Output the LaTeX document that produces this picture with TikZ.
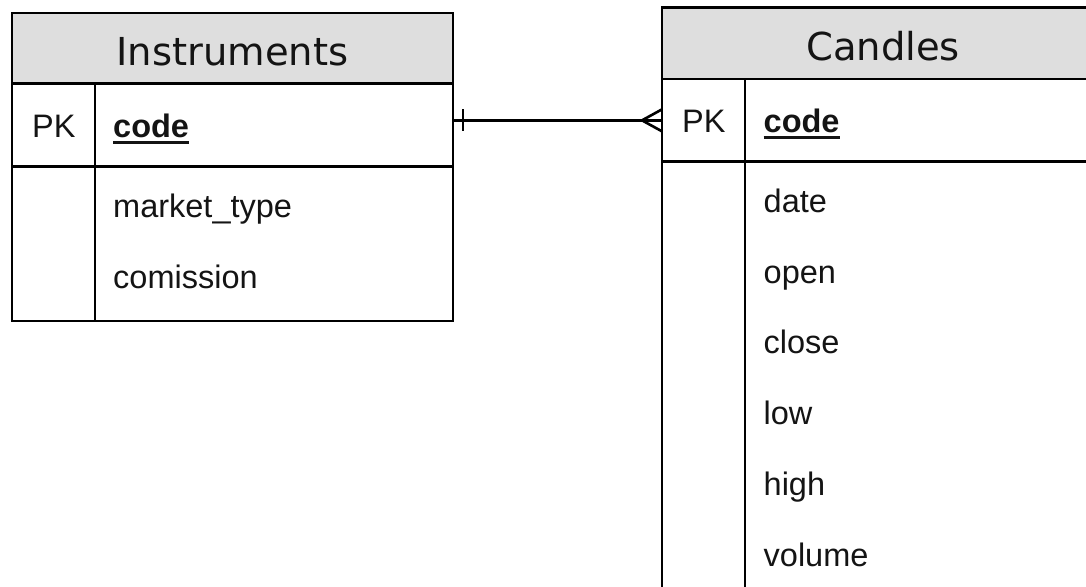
\documentclass[tikz,border=0pt]{standalone}
\usepackage{fontspec}
\setmainfont{Liberation Sans}
\newfontfamily\headfont{DejaVu Sans}
\usetikzlibrary{calc}
\definecolor{hdrgray}{RGB}{222,222,222}
\definecolor{ink}{RGB}{20,20,20}
\newcommand\ulbox[1]{\setbox0\hbox{#1}\rlap{\rule[-7pt]{\wd0}{2.6pt}}\box0}
\tikzset{
  tbl/.style={draw=black, line width=2.6pt, inner sep=0pt, outer sep=0pt, rectangle, anchor=north west},
  hdr/.style={tbl, fill=hdrgray},
  ttl/.style={font=\headfont\fontsize{38.5}{40}\selectfont, text=ink, anchor=base, inner sep=0pt},
  fld/.style={font=\fontsize{32.5}{34}\selectfont, text=ink, anchor=base west, inner sep=0pt},
  keyfld/.style={fld, font=\bfseries\fontsize{32.5}{34}\selectfont},
  rel/.style={draw=black, line width=2.6pt},
}
\begin{document}
\begin{tikzpicture}[x=1pt,y=-1pt]
\useasboundingbox (0,0) rectangle (1086,586);
\clip (0,0) rectangle (1086,586);
% Instruments table
\node[hdr, minimum width=441pt, minimum height=70.5pt] (ihead) at (12,13) {};
\node[tbl, minimum width=83pt, minimum height=83pt] (ipkk) at (12,83.5) {};
\node[tbl, minimum width=358pt, minimum height=83pt] (ipkf) at (95,83.5) {};
\node[tbl, minimum width=83pt, minimum height=154.5pt] (irestk) at (12,166.5) {};
\node[tbl, minimum width=358pt, minimum height=154.5pt] (irestf) at (95,166.5) {};
\node[ttl] (ititle) at (232.5,65.7) {Instruments};
\node[fld] (ipk) at (32,137) {PK};
\node[keyfld] (icode) at (113,137) {\ulbox{code}};
\node[fld] (imarket) at (113,217) {market\_type};
\node[fld] (icom) at (113,288.3) {comission};
% Candles table
\node[hdr, minimum width=442pt, minimum height=71.5pt] (chead) at (662,7.5) {};
\node[tbl, minimum width=83pt, minimum height=82.7pt] (cpkk) at (662,79) {};
\node[tbl, minimum width=359pt, minimum height=82.7pt] (cpkf) at (745,79) {};
\node[tbl, minimum width=83pt, minimum height=460pt] (crestk) at (662,161.7) {};
\node[tbl, minimum width=359pt, minimum height=460pt] (crestf) at (745,161.7) {};
\node[ttl] (ctitle) at (883,60.7) {Candles};
\node[fld] (cpk) at (682,132) {PK};
\node[keyfld] (ccode) at (763.5,132) {\ulbox{code}};
\node[fld] (cdate) at (763.5,212) {date};
\node[fld] (copen) at (763.5,283) {open};
\node[fld] (cclose) at (763.5,353.5) {close};
\node[fld] (clow) at (763.5,424.5) {low};
\node[fld] (chigh) at (763.5,495.3) {high};
\node[fld] (cvol) at (763.5,566) {volume};
% relationship
\coordinate (relA) at (ipkf.east |- cpkk.west);
\draw[rel] (relA) -- (cpkk.west);
\draw[rel] ($(relA)+(10,-11)$) -- ($(relA)+(10,11)$);
\draw[rel] ($(cpkk.west)+(0,-11)$) -- ($(cpkk.west)+(-20,0)$) -- ($(cpkk.west)+(0,11)$);
\end{tikzpicture}
\end{document}
